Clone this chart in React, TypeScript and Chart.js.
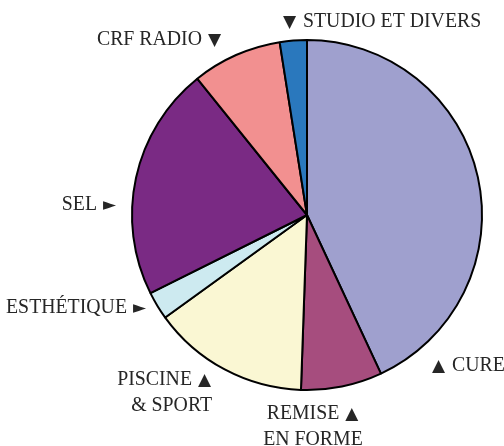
import React, { useEffect, useRef } from "react";
import { Chart, registerables } from "chart.js";

Chart.register(...registerables);

const categories = ["CURE", "REMISE EN FORME", "PISCINE & SPORT", "ESTHÉTIQUE", "SEL", "CRF RADIO", "STUDIO ET DIVERS"];
const values = [43.1, 7.5, 14.5, 2.6, 21.6, 8.3, 2.5];
const colors = ["#9FA0CE", "#A64D7E", "#FAF7D3", "#CDEAF0", "#7A2A84", "#F29090", "#2A78BD"];
const labelLines = [
  ["▲ CURE"],
  ["REMISE ▲", "EN FORME"],
  ["PISCINE ▲", "& SPORT"],
  ["ESTHÉTIQUE ►"],
  ["SEL ►"],
  ["CRF RADIO ▼"],
  ["▼ STUDIO ET DIVERS"],
];

// label placement relative to the pie centre (pixels at radius 175), dy = baseline
const labelLayout = [
  { dx: 125, dy: 156, align: "left" },
  { dx: 6, dy: 204, align: "center" },
  { dx: -95, dy: 170, align: "right" },
  { dx: -160, dy: 98, align: "right" },
  { dx: -190, dy: -5, align: "right" },
  { dx: -85, dy: -170, align: "right" },
  { dx: -24, dy: -188, align: "left" },
];

const TEXT_FONT = "22px 'Liberation Serif', 'DejaVu Serif', serif";
const TRI_FONT = "17px 'DejaVu Sans', sans-serif";
const X_SCALE = 0.9;
const GAP = 6;

function drawLine(ctx: CanvasRenderingContext2D, text: string, x: number, y: number, align: string) {
  const parts = text.split(/([▲▼►])/).map((p) => p.trim()).filter((p) => p.length);
  const segs = parts.map((p) => {
    const tri = /^[▲▼►]$/.test(p);
    ctx.font = tri ? TRI_FONT : TEXT_FONT;
    const m = ctx.measureText(p);
    const w = tri ? m.actualBoundingBoxLeft + m.actualBoundingBoxRight : m.width * X_SCALE;
    const off = tri ? m.actualBoundingBoxLeft : 0;
    return { p, tri, w, off };
  });
  const total = segs.reduce((a, s) => a + s.w, 0) + GAP * (segs.length - 1);
  let cx = align === "left" ? x : align === "right" ? x - total : x - total / 2;
  segs.forEach((s) => {
    ctx.save();
    ctx.font = s.tri ? TRI_FONT : TEXT_FONT;
    ctx.textAlign = "left";
    ctx.textBaseline = "alphabetic";
    ctx.translate(cx + s.off, y);
    if (!s.tri) ctx.scale(X_SCALE, 1);
    ctx.fillText(s.p, 0, 0);
    ctx.restore();
    cx += s.w + GAP;
  });
}

const labelPlugin = {
  id: "outsideLabels",
  afterDraw(chart: any) {
    const meta = chart.getDatasetMeta(0);
    const arc = meta.data[0];
    if (!arc) return;
    const { x, y, outerRadius } = arc.getProps(["x", "y", "outerRadius"], true);
    const s = outerRadius / 175;
    const ctx = chart.ctx;
    ctx.save();
    ctx.fillStyle = "#262626";
    labelLines.forEach((lines, i) => {
      const l = labelLayout[i];
      lines.forEach((t, j) => {
        drawLine(ctx, t, x + l.dx * s, y + l.dy * s + j * 26, l.align);
      });
    });
    ctx.restore();
  },
};

export default function App() {
  const ref = useRef<HTMLCanvasElement>(null);
  useEffect(() => {
    const chart = new Chart(ref.current!, {
      type: "pie",
      data: {
        labels: categories,
        datasets: [
          {
            data: values,
            backgroundColor: colors,
            borderColor: "#000000",
            borderWidth: 2,
            hoverOffset: 0,
            borderAlign: "center",
          },
        ],
      },
      options: {
        animation: false,
        responsive: false,
        layout: { padding: { left: 131, right: 21, top: 39, bottom: 55 } },
        plugins: { legend: { display: false }, tooltip: { enabled: false } },
      },
      plugins: [labelPlugin],
    } as any);
    return () => chart.destroy();
  }, []);
  return (
    <div style={{ position: "fixed", left: 0, top: 0, width: 504, height: 446, background: "#fff" }}>
      <canvas ref={ref} width={504} height={446} style={{ width: 504, height: 446 }} />
    </div>
  );
}
